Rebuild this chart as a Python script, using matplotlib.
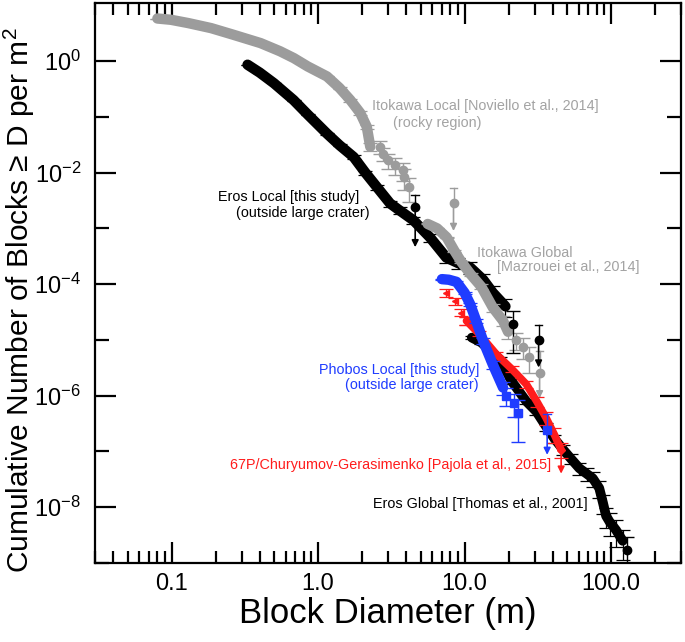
import numpy as np
import matplotlib
matplotlib.use("Agg")
import matplotlib.pyplot as plt
from matplotlib.ticker import FixedLocator, FixedFormatter, NullFormatter

plt.rcParams['font.family'] = ['Liberation Sans', 'DejaVu Sans']
plt.rcParams['mathtext.fontset'] = 'custom'
plt.rcParams['mathtext.rm'] = 'Liberation Sans'

# ---- data (D in m, cumulative number per m^2) ----
# Itokawa Local [Noviello et al., 2014], dense part then discrete points
ito_loc_x = [0.080, 0.099, 0.13, 0.186, 0.26, 0.405, 0.55, 0.683, 0.85, 1.15, 1.4, 1.66, 1.94, 2.15, 2.27]
ito_loc_y = [5.8, 5.5, 4.8, 3.9, 3.0, 2.1, 1.5, 1.13, 0.8, 0.53, 0.33, 0.2, 0.117, 0.066, 0.029]
ito_loc_err = [0, 0, 0, 0, 0, 0, 0, 0, 0.02, 0.03, 0.05, 0.06, 0.08, 0.1, 0.15]
ito_pts_x = [2.65, 2.79, 3.02, 3.36, 3.78, 3.88, 4.2]
ito_pts_y = [0.029, 0.022, 0.0167, 0.0135, 0.011, 0.0083, 0.0055]
ito_pts_err = [0.25, 0.28, 0.3, 0.33, 0.36, 0.4, 0.45]
ito_lim = (8.4, 0.0028, 0.0052, 0.0009)   # x, y, top of bar, arrow end

# Itokawa Global [Mazrouei et al., 2014]
ito_glob_x = [5.6, 6.5, 7.55, 8.5, 9.5, 11.0, 13.0, 15.6, 18.3, 19.8]
ito_glob_y = [1.2e-3, 1.0e-3, 6.9e-4, 4e-4, 2.5e-4, 1.5e-4, 9e-5, 3.8e-5, 2.2e-5, 1.4e-5]
ito_glob_err = [0.02, 0.02, 0.03, 0.04, 0.05, 0.07, 0.1, 0.15, 0.2, 0.25]
ito_gpts_x = [22.6, 24.9, 27.5]
ito_gpts_y = [1.0e-5, 7.6e-6, 5.0e-6]
ito_gpts_err = [0.35, 0.4, 0.5]
ito_glim = (32.5, 2.5e-6, 6.3e-6, 9e-7)

# Eros Local [this study]
eros_loc_x = [0.33, 0.4, 0.5, 0.68, 0.85, 1.15, 1.4, 1.75, 2.1, 2.52, 3.1, 3.6, 4.47, 5.8, 7.5,
              9.0, 10.9, 13.4, 15.6, 19.0]
eros_loc_y = [0.86, 0.62, 0.4, 0.2, 0.11, 0.05, 0.031, 0.019, 0.01, 5.5e-3, 2.8e-3, 2.1e-3, 1.4e-3,
              6.9e-4, 3e-4, 2.4e-4, 2e-4, 1.2e-4, 7e-5, 4e-5]
eros_loc_err = [0, 0, 0, 0.02, 0.03, 0.04, 0.05, 0.07, 0.08, 0.1, 0.12, 0.13, 0.15, 0.17, 0.2,
                0.22, 0.25, 0.28, 0.3, 0.35]
eros_pts_x = [21.4]
eros_pts_y = [1.95e-5]
eros_lims = [(4.6, 2.4e-3, 4.0e-3, 4.6e-4), (32.0, 9.8e-6, 1.85e-5, 3.2e-6)]

# Eros Global [Thomas et al., 2001]
eros_glob_x = [11.2, 13.0, 17.4, 21.0, 26.4, 30.9, 36.0, 41.0, 46.8, 53.0, 60.7, 68.0, 75.0, 83.0,
               88.0, 92.4, 97.6, 108.0, 120.0]
eros_glob_y = [1.1e-5, 9e-6, 4.5e-6, 1.8e-6, 7.9e-7, 5.2e-7, 2.8e-7, 1.7e-7, 1.1e-7, 7.5e-8, 5e-8,
               4e-8, 3.3e-8, 2.2e-8, 1.2e-8, 7e-9, 5.5e-9, 3.9e-9, 2.5e-9]
eros_glob_err = [0.05, 0.06, 0.08, 0.1, 0.12, 0.14, 0.16, 0.18, 0.2, 0.22, 0.25, 0.27, 0.3, 0.33,
                 0.37, 0.4, 0.45, 0.5, 0.55]
eros_last = (128.6, 1.7e-9, 0.7)

# Phobos Local [this study]
phob_x = [7.0, 7.8, 8.8, 10.0, 10.9, 12.0, 13.4, 15.6, 18.3]
phob_y = [1.23e-4, 1.2e-4, 1.1e-4, 7e-5, 4.4e-5, 2.2e-5, 9.5e-6, 3.6e-6, 1.4e-6]
phob_err = [0.02, 0.02, 0.03, 0.04, 0.06, 0.09, 0.12, 0.18, 0.25]
phob_pts_x = [19.3, 21.7, 23.2]
phob_pts_y = [1.0e-6, 7.4e-7, 4.9e-7]
phob_pts_err = [0.35, 0.45, 0.7]
phob_lim = (36.6, 2.4e-7, 4.7e-7, 8.7e-8)

# 67P/Churyumov-Gerasimenko [Pajola et al., 2015]
p67_x = [7.5, 8.6, 9.5, 10.3, 12.5, 16.5, 21.0, 26.4, 31.0, 36.0, 41.0, 45.6]
p67_y = [7e-5, 5e-5, 3.1e-5, 2.2e-5, 1.3e-5, 5.5e-6, 3.0e-6, 1.6e-6, 8e-7, 4e-7, 2e-7, 1.07e-7]
p67_err = [0.15, 0.15, 0.15, 0.15, 0.1, 0.1, 0.12, 0.15, 0.2, 0.25, 0.3, 0.3]
p67_lim = (45.6, 1.07e-7, 1.3e-7, 4e-8)

GRAY = '#9c9c9c'
GRAY_TXT = '#a3a3a3'
BLUE = '#1f3cff'
RED = '#ff1c1c'

fig = plt.figure(figsize=(6.85, 6.42), dpi=100)
ax = fig.add_axes([95 / 685, 1 - 563 / 642, (681 - 95) / 685, (563 - 3) / 642])
ax.set_xscale('log')
ax.set_yscale('log')


def band(x, y, err, color, lw=7, z=2):
    x = np.array(x)
    y = np.array(y)
    e = np.array(err) * y
    ax.errorbar(x, y, yerr=e, fmt='none', ecolor=color, elinewidth=0.9,
                capsize=5, capthick=0.9, zorder=z)
    ax.plot(x, y, '-', color=color, lw=lw, solid_capstyle='round',
            solid_joinstyle='round', zorder=z)


def points(x, y, err, color, marker, ms=6, z=3):
    y = np.array(y)
    ax.errorbar(x, y, yerr=np.array(err) * y, fmt=marker, color=color, ms=ms,
                ecolor=color, elinewidth=1.0, capsize=5, capthick=1.0, zorder=z)


def limit(lim, color, marker, ms=6, z=3):
    x, y, top, low = lim
    ax.plot([x, x], [y, top], color=color, lw=1.0, zorder=z)
    ax.plot([x / 1.06, x * 1.06], [top, top], color=color, lw=1.0, zorder=z)
    ax.annotate('', xy=(x, low), xytext=(x, y),
                arrowprops=dict(arrowstyle='-|>', color=color, lw=1.2,
                                mutation_scale=10, shrinkA=0, shrinkB=0), zorder=z)
    ax.plot([x], [y], marker, color=color, ms=ms, zorder=z + 1)


# Itokawa
band(ito_loc_x, ito_loc_y, ito_loc_err, GRAY, lw=7.5, z=2)
points(ito_pts_x, ito_pts_y, ito_pts_err, GRAY, 'o')
limit(ito_lim, GRAY, 'o')
band(ito_glob_x, ito_glob_y, ito_glob_err, GRAY, lw=7.5, z=3)
points(ito_gpts_x, ito_gpts_y, ito_gpts_err, GRAY, 'o')
limit(ito_glim, GRAY, 'o')

# Eros
band(eros_loc_x, eros_loc_y, eros_loc_err, 'black', lw=7.5, z=2)
points(eros_pts_x, eros_pts_y, [0.7], 'black', 'o')
for lim in eros_lims:
    limit(lim, 'black', 'o')
band(eros_glob_x, eros_glob_y, eros_glob_err, 'black', lw=7, z=2)
points([eros_last[0]], [eros_last[1]], [eros_last[2]], 'black', 'o')

# 67P
ax.errorbar(p67_x[:4], p67_y[:4], yerr=np.array(p67_err[:4]) * np.array(p67_y[:4]),
            fmt='<', color=RED, ms=5, elinewidth=0.9, capsize=5, capthick=0.9, zorder=4)
band(p67_x[3:], p67_y[3:], p67_err[3:], RED, lw=5.5, z=4)
limit(p67_lim, RED, 'D', ms=4, z=4)

# Phobos
band(phob_x, phob_y, phob_err, BLUE, lw=7.5, z=5)
points(phob_pts_x, phob_pts_y, phob_pts_err, BLUE, 's', z=5)
limit(phob_lim, BLUE, 's', z=5)

ax.set_xlim(0.03, 300)
ax.set_ylim(1e-9, 11)

# ticks
xmaj = [0.1, 1, 10, 100]
xmin = [m * d for d in [0.01, 0.1, 1, 10, 100] for m in range(2, 10)]
ax.xaxis.set_major_locator(FixedLocator(xmaj))
ax.xaxis.set_major_formatter(FixedFormatter(['0.1', '1.0', '10.0', '100.0']))
ax.xaxis.set_minor_locator(FixedLocator(xmin))
ax.xaxis.set_minor_formatter(NullFormatter())
ymaj = [1e0, 1e-2, 1e-4, 1e-6, 1e-8]
ax.yaxis.set_major_locator(FixedLocator(ymaj))
ax.yaxis.set_major_formatter(FixedFormatter([r'$\mathregular{10^{0}}$', r'$\mathregular{10^{-2}}$',
                                             r'$\mathregular{10^{-4}}$', r'$\mathregular{10^{-6}}$',
                                             r'$\mathregular{10^{-8}}$']))
ax.yaxis.set_minor_locator(FixedLocator([1e-1, 1e-3, 1e-5, 1e-7, 1e-9]))
ax.yaxis.set_minor_formatter(NullFormatter())
ax.tick_params(which='both', direction='in', top=True, right=True, width=1.6, labelsize=17)
ax.tick_params(axis='x', which='major', length=15, pad=7)
ax.tick_params(axis='x', which='minor', length=8.5)
ax.tick_params(axis='y', which='major', length=15, pad=10)
ax.tick_params(axis='y', which='minor', length=10)
for s in ax.spines.values():
    s.set_linewidth(1.6)

ax.set_xlabel('Block Diameter (m)', fontsize=25, labelpad=2)
fig.text(19 / 685, 1 - 300 / 642, 'Cumulative Number of Blocks \u2265 D per m$\\mathregular{^2}$',
         fontsize=21.5, rotation=90, ha='center', va='center')


def lab(px, py, s, color, ha='left'):
    fig.text(px / 685, 1 - py / 642, s, color=color, fontsize=10.4, ha=ha, va='center')


lab(372, 106, 'Itokawa Local [Noviello et al., 2014]', GRAY_TXT)
lab(393, 123, '(rocky region)', GRAY_TXT)
lab(359, 197, 'Eros Local [this study]', 'black', ha='right')
lab(236, 213, '(outside large crater)', 'black')
lab(477, 253, 'Itokawa Global', GRAY_TXT)
lab(497, 267, '[Mazrouei et al., 2014]', GRAY_TXT)
lab(479, 370, 'Phobos Local [this study]', BLUE, ha='right')
lab(479, 385, '(outside large crater)', BLUE, ha='right')
lab(230, 465, '67P/Churyumov-Gerasimenko [Pajola et al., 2015]', RED)
lab(588, 504, 'Eros Global [Thomas et al., 2001]', 'black', ha='right')

fig.savefig('out.png', dpi=100)
